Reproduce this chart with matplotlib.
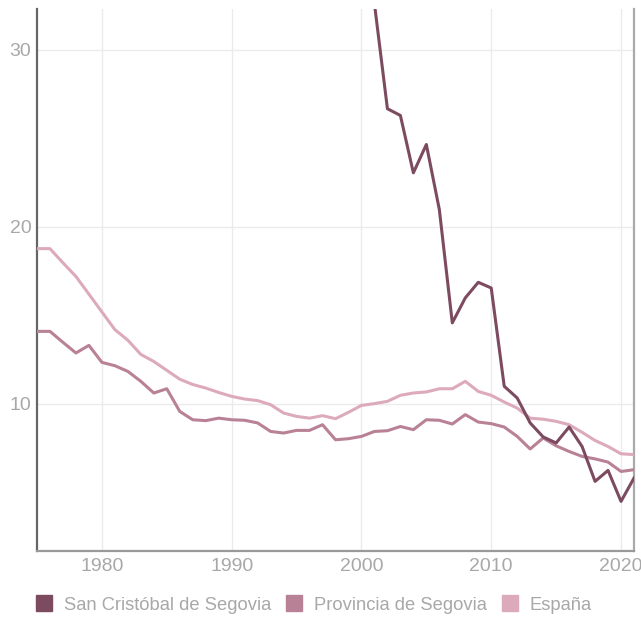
import matplotlib
matplotlib.use("Agg")
import matplotlib.pyplot as plt
from matplotlib.lines import Line2D
import numpy as np

plt.rcParams['font.family'] = ['Liberation Sans', 'DejaVu Sans']

years = list(range(1975, 2022))

espana = [18.77, 18.77, 17.97, 17.2, 16.2, 15.2, 14.2, 13.6, 12.8, 12.4,
          11.9, 11.4, 11.1, 10.9, 10.65, 10.43, 10.28, 10.19, 9.96, 9.49,
          9.3, 9.2, 9.34, 9.17, 9.53, 9.92, 10.02, 10.15, 10.49, 10.62,
          10.68, 10.86, 10.86, 11.28, 10.71, 10.49, 10.11, 9.77, 9.2, 9.14,
          9.02, 8.83, 8.4, 7.94, 7.6, 7.19, 7.14]

provincia = [14.1, 14.1, 13.48, 12.88, 13.31, 12.35, 12.16, 11.84, 11.28, 10.62,
             10.86, 9.58, 9.11, 9.06, 9.2, 9.11, 9.08, 8.93, 8.45, 8.36,
             8.51, 8.51, 8.83, 7.98, 8.04, 8.17, 8.45, 8.49, 8.73, 8.55,
             9.11, 9.08, 8.87, 9.4, 8.98, 8.89, 8.7, 8.17, 7.46, 8.08,
             7.64, 7.32, 7.04, 6.9, 6.72, 6.19, 6.29]

san_cristobal = [None] * 26 + [32.6, 26.67, 26.29, 23.05, 24.65, 20.98, 14.58, 15.99,
                               16.87, 16.55, 11.0, 10.34, 8.93, 8.14, 7.8, 8.7, 7.6,
                               5.63, 6.25, 4.5, 5.82]

series_names = ["San Cristóbal de Segovia", "Provincia de Segovia", "España"]
colors = ["#7d4b60", "#b98196", "#dcaabb"]

x_ticks = [1980, 1990, 2000, 2010, 2020]
y_ticks = [10, 20, 30]

fig = plt.figure(figsize=(6.41, 6.18), dpi=100)
ax = fig.add_axes([37 / 641, 1 - 551 / 618, (634 - 37) / 641, (551 - 9) / 618])

def to_arr(v):
    return np.array([np.nan if a is None else a for a in v], dtype=float)

ax.plot(years, to_arr(espana), color=colors[2], lw=2.2, zorder=3)
ax.plot(years, to_arr(provincia), color=colors[1], lw=2.2, zorder=4)
ax.plot(years, to_arr(san_cristobal), color=colors[0], lw=2.2, zorder=5)

ax.set_xlim(1975, 2021)
ax.set_ylim(1.7, 32.3)
ax.set_xticks(x_ticks)
ax.set_yticks(y_ticks)
ax.grid(True, color="#ebebeb", lw=1.0, zorder=0)
ax.set_axisbelow(True)
ax.tick_params(length=0, labelsize=14, colors="#a8a8a8")
ax.tick_params(axis='x', pad=5)
ax.tick_params(axis='y', pad=4)

ax.spines['top'].set_visible(False)
ax.spines['left'].set_color("#666666")
ax.spines['left'].set_linewidth(1.6)
ax.spines['bottom'].set_color("#999999")
ax.spines['bottom'].set_linewidth(1.6)
ax.spines['right'].set_color("#aaaaaa")
ax.spines['right'].set_linewidth(1.6)

handles = [Line2D([0], [0], marker='s', linestyle='none', markersize=11,
                  markerfacecolor=c, markeredgecolor=c) for c in colors]
leg = fig.legend(handles, series_names, loc='center left',
                 bbox_to_anchor=(27 / 641, 1 - 605 / 618), ncol=3, frameon=False,
                 fontsize=13.2, handletextpad=0.6, columnspacing=0.75,
                 handlelength=1.0, borderaxespad=0)
for t in leg.get_texts():
    t.set_color("#a8a8a8")

fig.savefig("out.png", dpi=100)
